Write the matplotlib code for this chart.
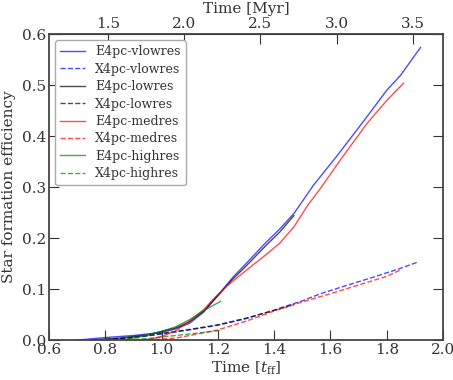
import numpy as np
import matplotlib
matplotlib.use('Agg')
import matplotlib.pyplot as plt

plt.rcParams['font.family'] = 'DejaVu Serif'
plt.rcParams['mathtext.fontset'] = 'dejavuserif'

# t_ff -> Myr
MYR_PER_TFF = 1.85

# E4pc / X4pc 各分辨率
t_e_vlow = [0.70, 0.80, 0.90, 1.00, 1.05, 1.10, 1.15, 1.20, 1.255, 1.30, 1.37, 1.42, 1.47, 1.54, 1.62, 1.72, 1.80, 1.85, 1.92]
y_e_vlow = [0.000, 0.005, 0.009, 0.015, 0.022, 0.033, 0.055, 0.088, 0.124, 0.150, 0.191, 0.218, 0.248, 0.304, 0.359, 0.431, 0.490, 0.520, 0.574]

t_x_vlow = [0.75, 0.85, 0.95, 1.00, 1.05, 1.10, 1.20, 1.30, 1.40, 1.50, 1.56, 1.65, 1.75, 1.85, 1.91]
y_x_vlow = [0.000, 0.003, 0.008, 0.012, 0.016, 0.020, 0.029, 0.042, 0.059, 0.077, 0.090, 0.106, 0.123, 0.141, 0.153]

t_e_low = [0.75, 0.85, 0.95, 1.00, 1.05, 1.10, 1.15, 1.20, 1.25, 1.30, 1.37, 1.42, 1.47]
y_e_low = [0.000, 0.004, 0.010, 0.017, 0.024, 0.036, 0.057, 0.087, 0.118, 0.145, 0.185, 0.212, 0.244]

t_x_low = [0.80, 0.90, 0.95, 1.00, 1.05, 1.10, 1.20, 1.30, 1.40, 1.47]
y_x_low = [0.000, 0.005, 0.009, 0.013, 0.017, 0.021, 0.030, 0.043, 0.058, 0.070]

t_e_med = [0.92, 0.96, 1.00, 1.05, 1.10, 1.15, 1.18, 1.23, 1.31, 1.37, 1.42, 1.47, 1.52, 1.56, 1.64, 1.73, 1.80, 1.86]
y_e_med = [0.000, 0.002, 0.007, 0.018, 0.038, 0.060, 0.078, 0.105, 0.141, 0.167, 0.190, 0.222, 0.265, 0.294, 0.357, 0.425, 0.470, 0.504]

t_x_med = [0.95, 1.00, 1.05, 1.10, 1.20, 1.30, 1.40, 1.50, 1.60, 1.70, 1.80, 1.85]
y_x_med = [0.000, 0.002, 0.004, 0.009, 0.020, 0.037, 0.057, 0.075, 0.091, 0.108, 0.125, 0.138]

t_e_high = [0.85, 0.90, 0.95, 1.00, 1.05, 1.10, 1.15, 1.21]
y_e_high = [0.000, 0.004, 0.010, 0.017, 0.026, 0.040, 0.058, 0.076]

t_x_high = [0.85, 0.95, 1.00, 1.05, 1.10, 1.15, 1.21]
y_x_high = [0.000, 0.003, 0.006, 0.009, 0.012, 0.015, 0.019]

myr_ticks = [1.5, 2.0, 2.5, 3.0, 3.5]

fig = plt.figure(figsize=(4.53, 3.80), dpi=100)
ax = fig.add_axes([0.108, 0.105, 0.870, 0.805])

series = [
    (t_e_vlow, y_e_vlow, 'b', '-', 'E4pc-vlowres'),
    (t_x_vlow, y_x_vlow, 'b', '--', 'X4pc-vlowres'),
    (t_e_low, y_e_low, 'k', '-', 'E4pc-lowres'),
    (t_x_low, y_x_low, 'k', '--', 'X4pc-lowres'),
    (t_e_med, y_e_med, 'r', '-', 'E4pc-medres'),
    (t_x_med, y_x_med, 'r', '--', 'X4pc-medres'),
    (t_e_high, y_e_high, 'g', '-', 'E4pc-highres'),
    (t_x_high, y_x_high, 'g', '--', 'X4pc-highres'),
]
for t, y, c, ls, lab in series:
    ax.plot(t, y, color=c, ls=ls, lw=1.0, alpha=0.7, label=lab)

ax.set_xlim(0.6, 2.0)
ax.set_ylim(0.0, 0.6)
ax.set_xticks(np.arange(0.6, 2.01, 0.2))
ax.set_yticks(np.arange(0.0, 0.61, 0.1))
ax.set_xlabel(r'Time [$t_{\rm ff}$]', fontsize=11, color='#333333', labelpad=2)
ax.set_ylabel('Star formation efficiency', fontsize=11, color='#333333')
ax.tick_params(direction='in', length=7, labelsize=11, right=True, top=False,
               colors='#333333', pad=2)
for sp in ax.spines.values():
    sp.set_linewidth(1.3)
    sp.set_color('#444444')

# 上方坐标轴：Myr
sec = ax.secondary_xaxis('top', functions=(lambda x: x * MYR_PER_TFF, lambda m: m / MYR_PER_TFF))
sec.set_xticks(myr_ticks)
sec.set_xlabel('Time [Myr]', fontsize=11, color='#333333', labelpad=3)
sec.tick_params(direction='in', length=7, labelsize=11, colors='#333333', pad=2)

leg = ax.legend(loc='upper left', fontsize=9, handlelength=2.0, labelspacing=0.35,
                borderpad=0.4, fancybox=True, framealpha=1.0)
leg.get_frame().set_edgecolor('#aaaaaa')
for txt in leg.get_texts():
    txt.set_color('#333333')

fig.savefig('out.png', dpi=100)
